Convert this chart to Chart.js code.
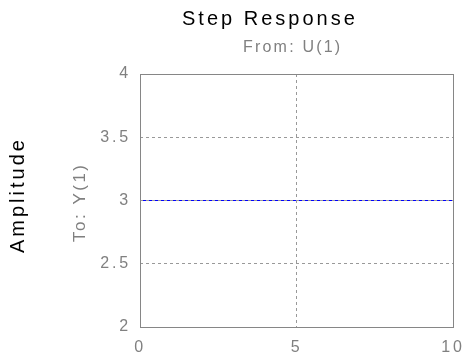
<!DOCTYPE html>
<html>
<head>
<meta charset="utf-8">
<script src="https://cdn.jsdelivr.net/npm/chart.js@4.4.0/dist/chart.umd.min.js"></script>
<style>
html, body { margin: 0; padding: 0; background: #fff; }
#wrap { width: 467px; height: 362px; }
</style>
</head>
<body>
<div id="wrap"><canvas id="step_chart"></canvas></div>
<script>
// step response data (constant gain of 3)
var timeValues = [0, 10];
var amplitude = [3, 3];
var xTicks = [0, 5, 10];
var yTicks = [2, 2.5, 3, 3.5, 4];

var FONT = "'Liberation Sans', Arial, Helvetica, sans-serif";
var GRAY = '#808080';

// text with letter spacing, (x, y) = start of the baseline
function spacedText(ctx, text, x, y, size, spacing, color, rotate) {
    ctx.save();
    ctx.font = size + 'px ' + FONT;
    ctx.letterSpacing = spacing + 'px';
    ctx.fillStyle = color;
    ctx.textAlign = 'left';
    ctx.textBaseline = 'alphabetic';
    ctx.translate(x, y);
    if (rotate) ctx.rotate(-Math.PI / 2);
    ctx.fillText(text, 0, 0);
    ctx.restore();
}

var matlabLook = {
    id: 'matlabLook',
    beforeLayout: function(chart) { chart.ctx.letterSpacing = '2.8px'; },
    beforeDraw: function(chart) { chart.ctx.letterSpacing = '2.8px'; },
    afterDraw: function(chart) {
        var ctx = chart.ctx;
        var a = chart.chartArea;
        ctx.save();
        ctx.letterSpacing = '0px';
        ctx.strokeStyle = '#868686';
        ctx.lineWidth = 1;
        ctx.setLineDash([]);
        ctx.strokeRect(Math.round(a.left) + 0.5, Math.round(a.top) + 0.5,
                       Math.round(a.right - a.left), Math.round(a.bottom - a.top));
        ctx.restore();

        spacedText(ctx, 'Step Response', 182, 24.5, 20, 3, '#000', false);
        spacedText(ctx, 'From: U(1)', 243, 52, 16, 2.2, GRAY, false);
        spacedText(ctx, 'Amplitude', 24, 253, 20, 3, '#000', true);
        spacedText(ctx, 'To: Y(1)', 85, 242, 17, 2.5, GRAY, true);
    }
};

var ctx = document.getElementById('step_chart').getContext('2d');
var stepChart = new Chart(ctx, {
    type: 'line',
    data: {
        datasets: [
            {
                label: 'Step',
                data: timeValues.map(function(t, i) { return {x: t, y: amplitude[i]}; }),
                borderColor: '#0000ff',
                borderWidth: 1,
                pointRadius: 0,
                fill: false,
                tension: 0
            }
        ]
    },
    options: {
        responsive: true,
        maintainAspectRatio: false,
        animation: false,
        layout: {
            padding: { left: 0, right: 14, top: 74, bottom: 0 }
        },
        plugins: {
            legend: { display: false },
            tooltip: { enabled: false }
        },
        scales: {
            x: {
                type: 'linear',
                min: 0,
                max: 10,
                afterBuildTicks: function(scale) {
                    scale.ticks = xTicks.map(function(v) { return {value: v}; });
                },
                afterFit: function(scale) {
                    scale.height = 35;
                    scale.paddingLeft = 0;
                    scale.paddingRight = 0;
                },
                grid: { color: '#999999', lineWidth: 1, drawTicks: false, z: 1 },
                border: { display: false, dash: [3, 3] },
                ticks: {
                    color: GRAY,
                    padding: 11,
                    maxRotation: 0,
                    font: { family: FONT, size: 16 },
                    callback: function(v) { return String(v); }
                }
            },
            y: {
                type: 'linear',
                min: 2,
                max: 4,
                afterBuildTicks: function(scale) {
                    scale.ticks = yTicks.map(function(v) { return {value: v}; });
                },
                afterFit: function(scale) {
                    scale.width = 140;
                    scale.paddingTop = 0;
                    scale.paddingBottom = 0;
                },
                grid: { color: '#999999', lineWidth: 1, drawTicks: false, z: 1 },
                border: { display: false, dash: [3, 3] },
                ticks: {
                    color: GRAY,
                    padding: 9,
                    font: { family: FONT, size: 16 },
                    callback: function(v) { return String(v); }
                }
            }
        }
    },
    plugins: [matlabLook]
});
</script>
</body>
</html>
